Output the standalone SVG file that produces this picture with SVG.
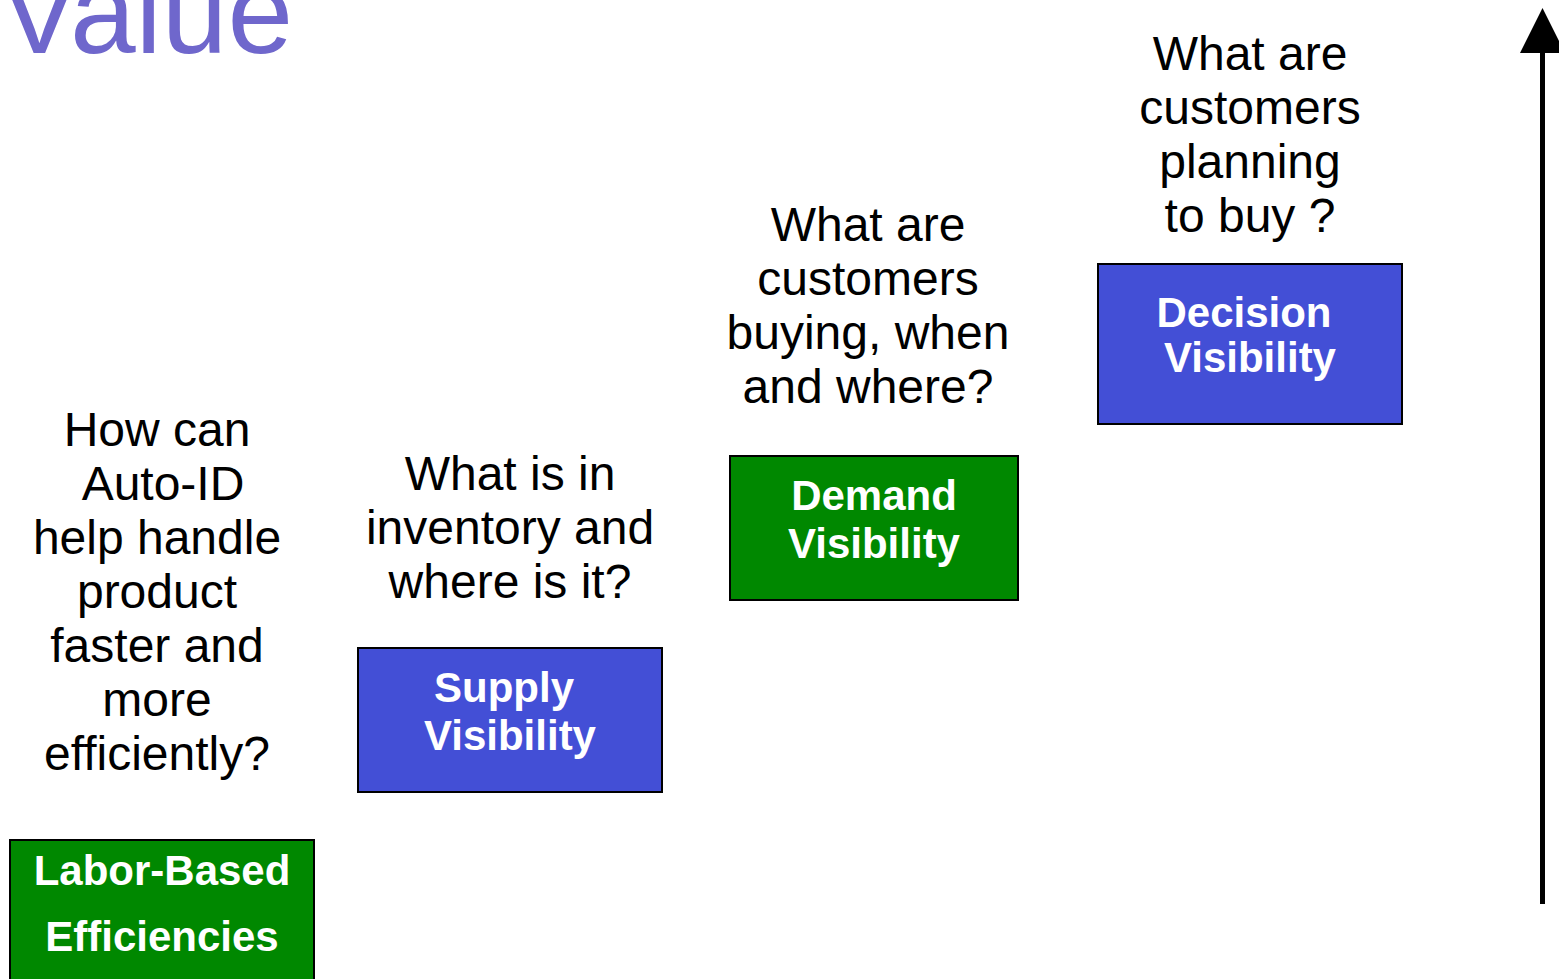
<svg xmlns="http://www.w3.org/2000/svg" width="1559" height="979" viewBox="0 0 1559 979">
<style>
.q{font-family:"Liberation Sans",Arial,sans-serif;font-size:48px;fill:#000;text-anchor:middle}
.b{font-family:"Liberation Sans",Arial,sans-serif;font-size:42px;font-weight:bold;fill:#fff;text-anchor:middle}
.g{fill:#008800;stroke:#000;stroke-width:2}
.u{fill:#434FD6;stroke:#000;stroke-width:2}
</style>
<rect width="1559" height="979" fill="#fff"/>
<text x="0" y="53" font-family="Liberation Sans, Arial, sans-serif" font-size="118" fill="#6F67CC">Value</text>
<g id="connectors">
<line x1="1542.5" y1="50" x2="1542.5" y2="904" stroke="#000" stroke-width="5"/>
<polygon points="1542.5,8 1520,53 1565,53" fill="#000"/>
</g>
<g id="q1"><text class="q" y="446"><tspan x="157">How can</tspan><tspan x="163" dy="54">Auto-ID</tspan><tspan x="157" dy="54">help handle</tspan><tspan x="157" dy="54">product</tspan><tspan x="157" dy="54">faster and</tspan><tspan x="157" dy="54">more</tspan><tspan x="157" dy="54">efficiently?</tspan></text></g>
<g id="q2"><text class="q" y="490"><tspan x="510">What is in</tspan><tspan x="510" dy="54">inventory and</tspan><tspan x="510" dy="54">where is it?</tspan></text></g>
<g id="q3"><text class="q" y="241"><tspan x="868">What are</tspan><tspan x="868" dy="54">customers</tspan><tspan x="868" dy="54">buying, when</tspan><tspan x="868" dy="54">and where?</tspan></text></g>
<g id="q4"><text class="q" y="70"><tspan x="1250">What are</tspan><tspan x="1250" dy="54">customers</tspan><tspan x="1250" dy="54">planning</tspan><tspan x="1250" dy="54">to buy ?</tspan></text></g>
<g id="labor"><rect class="g" x="10" y="840" width="304" height="150"/><text class="b" x="162" y="885">Labor-Based</text><text class="b" x="162" y="951">Efficiencies</text></g>
<g id="supply"><rect class="u" x="358" y="648" width="304" height="144"/><text class="b" x="504" y="702">Supply</text><text class="b" x="510" y="750">Visibility</text></g>
<g id="demand"><rect class="g" x="730" y="456" width="288" height="144"/><text class="b" x="874" y="510">Demand</text><text class="b" x="874" y="558">Visibility</text></g>
<g id="decision"><rect class="u" x="1098" y="264" width="304" height="160"/><text class="b" x="1244" y="327">Decision</text><text class="b" x="1250" y="372">Visibility</text></g>
</svg>
